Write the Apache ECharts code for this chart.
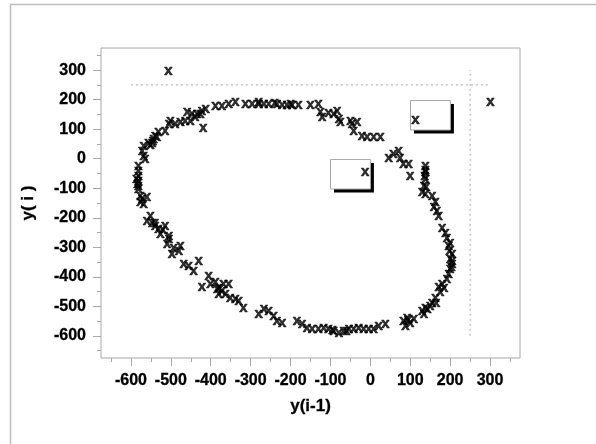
<!DOCTYPE html>
<html>
<head>
<meta charset="utf-8">
<script src="https://cdn.jsdelivr.net/npm/echarts@6/dist/echarts.min.js"></script>
<style>
html,body{margin:0;padding:0;background:#fff;}
#chart{width:596px;height:444px;}
</style>
</head>
<body>
<div id="chart"></div>
<script>
// Lag plot points: [y(i-1), y(i)]
const lagPoints = [
  [-506,294],[301,189],[113,128],[-13,-48],[-419,101],
  // top arc
  [-388,176],[-372,176],[-355,182],[-338,188],[-313,182],[-296,182],[-280,182],[-280,188],
  [-267,182],[-255,182],[-240,185],[-234,182],[-221,180],[-209,180],[-200,184],[-196,179],
  [-180,179],[-150,179],[-130,182],[-125,154],[-121,137],[-105,151],[-92,148],[-83,159],
  [-79,131],[-75,120],[-50,125],[-46,114],[-33,120],[-42,91],[-21,75],[-8,69],[8,69],[25,69],
  // upper-left arc
  [-459,154],[-447,148],[-434,148],[-422,159],[-413,165],[-476,120],[-464,125],[-451,125],
  [-439,137],[-426,148],[-501,125],[-505,114],[-489,114],[-514,91],[-531,86],[-539,75],
  [-543,63],[-535,69],[-545,58],[-547,52],[-551,45],[-556,52],[-568,41],[-572,24],[-568,7],
  [-564,-4],[-581,-27],[-581,-44],[-581,-61],[-586,-70],[-581,-78],[-584,-90],[-581,-95],
  [-581,-106],[-576,-129],[-572,-140],[-576,-150],[-568,-157],[-560,-134],[-551,-197],
  [-560,-213],[-547,-219],[-540,-220],[-539,-230],[-531,-242],[-514,-230],[-526,-259],
  [-520,-245],[-505,-264],
  // lower-left arc
  [-505,-275],[-509,-292],[-493,-304],[-476,-298],[-497,-326],[-480,-315],[-468,-360],
  [-455,-366],[-443,-383],[-430,-349],[-405,-400],[-422,-439],[-401,-428],[-388,-422],
  [-384,-445],[-380,-440],[-372,-450],[-380,-462],[-368,-428],[-355,-428],[-363,-462],
  [-351,-473],[-338,-479],[-330,-484],[-318,-507],[-280,-530],[-267,-513],[-255,-518],
  [-242,-535],[-234,-552],[-221,-558],
  // bottom arc
  [-184,-552],[-171,-563],[-159,-575],[-146,-580],[-130,-578],[-117,-575],[-105,-580],
  [-95,-583],[-92,-586],[-79,-592],[-67,-586],[-60,-585],[-54,-580],[-42,-580],[-29,-575],
  [-17,-580],[-4,-580],[8,-580],[21,-569],[38,-563],
  // right side
  [92,-541],[83,-552],[88,-569],[95,-548],[100,-558],[109,-546],[130,-518],[134,-530],
  [138,-507],[143,-512],[150,-501],[155,-490],[165,-490],[163,-473],[175,-456],[171,-439],
  [185,-440],[180,-428],[192,-411],[196,-394],[200,-377],[203,-370],[205,-360],[205,-350],
  [200,-343],[205,-326],[198,-315],[196,-298],[200,-287],[192,-270],[188,-253],[180,-236],
  [171,-197],[167,-180],[159,-168],[163,-151],[155,-129],[138,-123],[130,-117],[140,-100],
  [134,-95],[138,-72],[136,-60],[138,-49],[138,-40],[138,-27],[100,-61],[96,-21],[83,-21],
  [75,1],[71,24],[58,13],[46,1]
];
const majorTicks = [-600,-500,-400,-300,-200,-100,0,100,200,300];
const minorTicks = [-650,-550,-450,-350,-250,-150,-50,50,150,250,350];
const axisRange = [-675, 375];
const refLineH = [[-600,250],[300,250]];
const refLineV = [[250,-600],[250,300]];
const boxes = [[100,100,200,200],[-100,-100,0,0]];

const FONT = 'Liberation Sans';
const gray = '#a8a8a8';

function makeAxis(kind, ticks, len, withLabels) {
  const a = {
    type: 'value', min: axisRange[0], max: axisRange[1],
    position: kind === 'x' ? 'bottom' : 'left',
    axisLine: {show: false, onZero: false},
    splitLine: {show: false},
    axisTick: {show: true, customValues: ticks, length: len, inside: false, lineStyle: {color: gray, width: 1}},
    axisLabel: {show: withLabels, customValues: ticks, margin: 15, fontSize: 16, fontWeight: 'bold', color: '#000', fontFamily: FONT,
                textBorderColor: '#000', textBorderWidth: 0.3}
  };
  if (withLabels) {
    a.nameLocation = 'middle';
    a.nameTextStyle = {fontSize: 17, fontWeight: 'bold', color: '#000', fontFamily: FONT, textBorderColor: '#000', textBorderWidth: 0.3};
    if (kind === 'x') { a.name = 'y(i-1)'; a.nameGap = 40; }
    else { a.name = 'y( i )'; a.nameGap = 64; a.nameRotate = 90; }
  }
  return a;
}

const chart = echarts.init(document.getElementById('chart'), null, {renderer: 'canvas'});
chart.setOption({
  animation: false,
  backgroundColor: '#fff',
  graphic: [{
    type: 'rect', silent: true, z: -10,
    shape: {x: 10.5, y: 4.5, width: 800, height: 800},
    style: {fill: 'none', stroke: '#bdbdbd', lineWidth: 1.5}
  }],
  grid: {left: 101, top: 48, right: 76, bottom: 86, show: true, borderColor: gray, borderWidth: 1, backgroundColor: 'transparent'},
  xAxis: [makeAxis('x', majorTicks, 8, true), makeAxis('x', minorTicks, 4, false)],
  yAxis: [makeAxis('y', majorTicks, 8, true), makeAxis('y', minorTicks, 4, false)],
  series: [
    {type: 'line', data: refLineH, symbol: 'none', silent: true, z: 1,
     lineStyle: {color: gray, width: 1, type: [2, 3]}},
    {type: 'line', data: refLineV, symbol: 'none', silent: true, z: 1,
     lineStyle: {color: gray, width: 1, type: [2, 3]}},
    {type: 'custom', data: boxes, z: 2, silent: true,
     encode: {x: [0, 2], y: [1, 3]},
     renderItem: function (params, api) {
       const p0 = api.coord([api.value(0), api.value(3)]);
       const p1 = api.coord([api.value(2), api.value(1)]);
       const w = p1[0] - p0[0], h = p1[1] - p0[1];
       return {type: 'group', children: [
         {type: 'rect', shape: {x: Math.round(p0[0]) + 4, y: Math.round(p0[1]) + 4, width: w, height: h}, style: {fill: '#000'}},
         {type: 'rect', shape: {x: Math.round(p0[0]) + 0.5, y: Math.round(p0[1]) + 0.5, width: w, height: h}, style: {fill: '#fff', stroke: '#aaa', lineWidth: 1}}
       ]};
     }},
    {type: 'scatter', data: lagPoints, z: 3, symbolSize: 1, silent: true,
     itemStyle: {color: 'rgba(0,0,0,0)'},
     label: {show: true, position: 'inside', formatter: 'x', offset: [0, -1],
             fontSize: 15, fontWeight: 'bold', color: '#000', fontFamily: FONT,
             textBorderColor: '#000', textBorderWidth: 0.6}}
  ]
});
</script>
</body>
</html>
